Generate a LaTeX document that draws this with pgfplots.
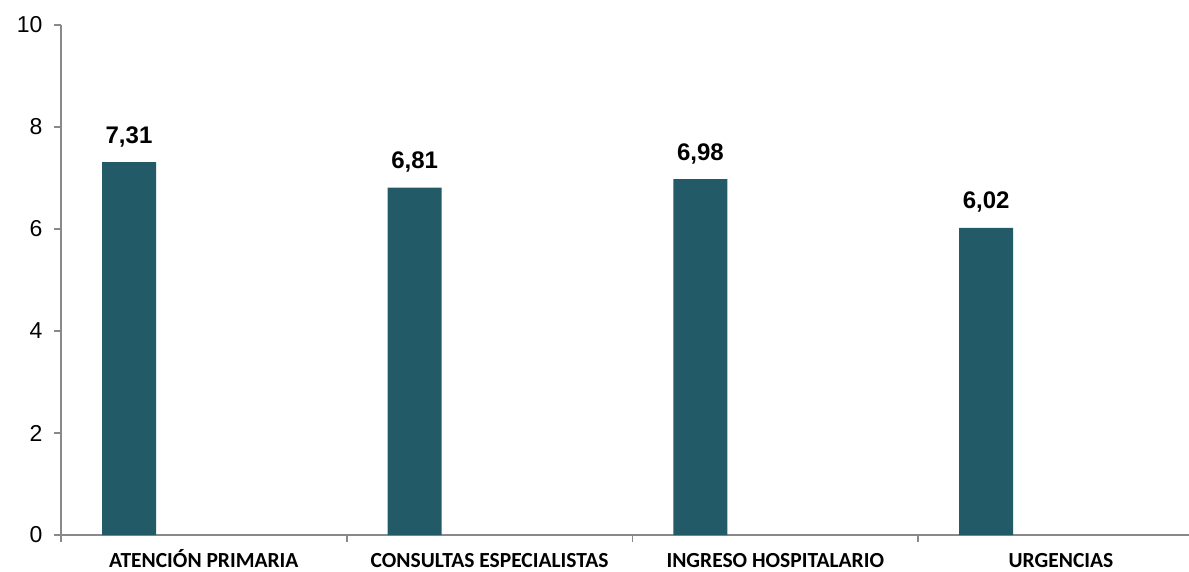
\documentclass[border=0pt]{standalone}
\usepackage{pgfplots}
\pgfplotsset{compat=1.18}
\usepackage{fontspec}
\setmainfont{Liberation Sans}
\newfontfamily\carlito{Carlito}
\definecolor{barcol}{HTML}{235A68}
\definecolor{axgray}{HTML}{898989}
\begin{document}
\begin{tikzpicture}
\begin{axis}[
  name=ax,
  scale only axis,
  width=1128pt, height=510pt,
  xmin=-0.5, xmax=3.448,
  ymin=0, ymax=10,
  axis lines=left,
  axis line style={-, draw=axgray, line width=2pt},
  ytick={0,2,4,6,8,10},
  yticklabel style={font=\fontsize{23}{27}\selectfont, /pgf/number format/assume math mode=true, xshift=-8pt},
  ytick style={draw=axgray, line width=1.6pt},
  major tick length=7pt,
  tick align=outside,
  xtick={0,1,2,3},
  xticklabels={ATENCIÓN PRIMARIA, CONSULTAS ESPECIALISTAS, INGRESO HOSPITALARIO, URGENCIAS},
  xticklabel style={font=\carlito\bfseries\fontsize{21.5}{25}\selectfont, text height=14pt, text depth=0pt, anchor=north, yshift=-8pt},
  x tick style={draw=none},
  extra x ticks={-0.5,0.5,1.5,2.5},
  extra x tick labels={},
  extra x tick style={x tick style={draw=axgray, line width=1.6pt}},
  ybar,
  bar width=0.189,
  bar shift=-0.262,
  nodes near coords={\pgfmathprintnumber[fixed, fixed zerofill, precision=2, use comma, assume math mode=true]{\pgfplotspointmeta}},
  every node near coord/.append style={font=\bfseries\fontsize{24}{28}\selectfont, anchor=base, yshift=19pt},
  clip=false,
]
\addplot[fill=barcol, draw=none] coordinates {(0,7.31) (1,6.81) (2,6.98) (3,6.02)};
\end{axis}
\pgfresetboundingbox
\path (ax.south west) ++(-61pt,-36pt) coordinate (bl);
\path (ax.north east) ++(0pt,25pt) coordinate (tr);
\path (bl) rectangle (tr);
\end{tikzpicture}
\end{document}
